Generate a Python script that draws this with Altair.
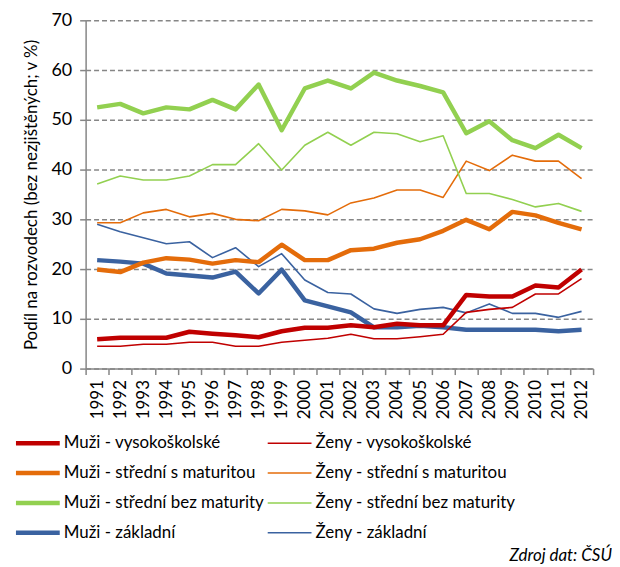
import altair as alt
import pandas as pd

years = [str(y) for y in range(1991, 2013)]

muzi_vs = [5.9, 6.2, 6.2, 6.2, 7.4, 7.0, 6.7, 6.3, 7.5, 8.2, 8.2, 8.7, 8.3, 9.0, 8.7, 8.7, 14.8, 14.5, 14.5, 16.7, 16.3, 19.9]
zeny_vs = [4.5, 4.5, 4.9, 4.9, 5.3, 5.3, 4.5, 4.5, 5.3, 5.7, 6.1, 6.9, 6.0, 6.0, 6.4, 6.9, 11.3, 11.9, 12.3, 15.0, 15.0, 18.1]
muzi_sm = [19.9, 19.4, 21.3, 22.2, 21.9, 21.1, 21.8, 21.4, 24.9, 21.8, 21.8, 23.8, 24.1, 25.3, 26.0, 27.7, 29.9, 28.0, 31.5, 30.8, 29.3, 28.0]
zeny_sm = [29.3, 29.3, 31.3, 32.0, 30.5, 31.2, 30.0, 29.7, 32.0, 31.7, 30.9, 33.3, 34.3, 35.9, 35.9, 34.4, 41.7, 39.8, 42.9, 41.7, 41.7, 38.2]
muzi_bm = [52.5, 53.2, 51.3, 52.5, 52.1, 54.0, 52.1, 57.1, 47.9, 56.3, 57.9, 56.3, 59.5, 57.9, 56.8, 55.5, 47.3, 49.7, 45.9, 44.3, 47.0, 44.3]
zeny_bm = [37.1, 38.7, 37.9, 37.9, 38.7, 41.0, 41.0, 45.2, 39.9, 44.9, 47.5, 44.9, 47.5, 47.2, 45.6, 46.8, 35.2, 35.2, 34.0, 32.5, 33.2, 31.6]
muzi_z = [21.8, 21.5, 21.1, 19.1, 18.7, 18.3, 19.5, 15.1, 19.9, 13.7, 12.5, 11.3, 8.3, 8.3, 8.6, 8.3, 7.8, 7.8, 7.8, 7.8, 7.5, 7.8]
zeny_z = [29.0, 27.5, 26.3, 25.1, 25.5, 22.3, 24.3, 20.5, 23.1, 17.8, 15.3, 15.0, 12.0, 11.1, 11.9, 12.3, 11.2, 13.0, 11.1, 11.1, 10.3, 11.5]

series_names = [
    "Muži - vysokoškolské", "Ženy - vysokoškolské",
    "Muži - střední s maturitou", "Ženy - střední s maturitou",
    "Muži - střední bez maturity", "Ženy - střední bez maturity",
    "Muži - základní", "Ženy - základní",
]
series_values = [muzi_vs, zeny_vs, muzi_sm, zeny_sm, muzi_bm, zeny_bm, muzi_z, zeny_z]
colors = ["#C00000", "#C00000", "#E46C0A", "#E46C0A", "#92D050", "#92D050", "#3A62A0", "#3A62A0"]
widths = [4.5, 1.6, 4.5, 1.6, 4.5, 1.6, 4.5, 1.6]
legend_col = [0, 1, 0, 1, 0, 1, 0, 1]
legend_row = [0, 0, 1, 1, 2, 2, 3, 3]
draw_order = [5, 4, 3, 2, 7, 6, 1, 0]

rows = []
for si in sorted(range(len(series_names)), key=lambda i: draw_order[i]):
    for y, v in zip(years, series_values[si]):
        rows.append({"rok": y, "hodnota": v, "serie": series_names[si],
                     "barva": colors[si], "sirka": widths[si]})
df = pd.DataFrame(rows)

leg_df = pd.DataFrame({"serie": series_names, "barva": colors, "sirka": widths,
                       "sl": legend_col, "rd": legend_row})

FONT = "Lato"

lines = alt.Chart(df).mark_line(strokeJoin="round", strokeCap="butt").encode(
    x=alt.X("rok:O", bandPosition=0.5,
            scale=alt.Scale(type="band", paddingInner=0, paddingOuter=0),
            axis=alt.Axis(title=None, labelAngle=-90, tickBand="extent", labelFontSize=17,
                          labelColor="#000000", domainColor="#868686", domainWidth=1.5,
                          tickColor="#868686", tickWidth=1.5, tickSize=6, labelPadding=5,
                          grid=False, labelFont=FONT)),
    y=alt.Y("hodnota:Q", scale=alt.Scale(domain=[0, 70], nice=False),
            axis=alt.Axis(title="Podíl na rozvodech (bez nezjištěných; v %)", values=[0, 10, 20, 30, 40, 50, 60, 70],
                          labelFontSize=18, labelColor="#000000", titleFontSize=17,
                          titleFontWeight="normal", titleColor="#000000", titlePadding=10,
                          domainColor="#868686", domainWidth=1.5, tickColor="#868686",
                          tickWidth=1.5, tickSize=6, labelPadding=8,
                          grid=True, gridDash=[5, 3], gridColor="#868686", gridWidth=1.5,
                          labelFont=FONT, titleFont=FONT)),
    color=alt.Color("barva:N", scale=None),
    strokeWidth=alt.StrokeWidth("sirka:Q", scale=None),
    detail="serie:N",
    order=alt.Order("rok:O"),
)

leg_base = alt.Chart(leg_df).transform_calculate(
    lx0="-70 + datum.sl * 253",
    lx1="-70 + datum.sl * 253 + 44",
    tx="-70 + datum.sl * 253 + 48",
    ly="425 + datum.rd * 30",
)

leg_lines = leg_base.mark_rule(strokeCap="butt").encode(
    x=alt.X("lx0:Q", scale=None, axis=None),
    x2="lx1:Q",
    y=alt.Y("ly:Q", scale=None, axis=None),
    color=alt.Color("barva:N", scale=None),
    strokeWidth=alt.StrokeWidth("sirka:Q", scale=None),
)

leg_text = leg_base.mark_text(align="left", baseline="middle", fontSize=17, font=FONT,
                              color="#000000").encode(
    x=alt.X("tx:Q", scale=None, axis=None),
    y=alt.Y("ly:Q", scale=None, axis=None),
    text="serie:N",
)

source = alt.Chart(pd.DataFrame({"t": ["Zdroj dat: ČSÚ"]})).mark_text(
    align="right", baseline="alphabetic", fontStyle="italic", fontSize=17, font=FONT, color="#000000"
).encode(text="t:N", x=alt.value(529), y=alt.value(543))

chart = alt.layer(lines, leg_lines, leg_text, source).resolve_scale(
    x="independent", y="independent", color="independent", strokeWidth="independent"
).properties(
    width=510, height=350, padding={"left": 5, "top": 2, "right": 0, "bottom": 0}
).configure_view(stroke=None)

chart.save("out.html", embed_options={"renderer": "svg", "actions": False})
